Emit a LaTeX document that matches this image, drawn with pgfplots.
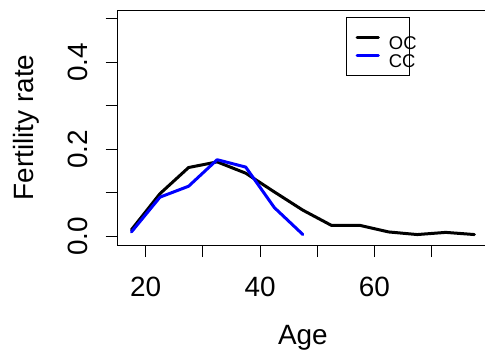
\documentclass[border=0pt]{standalone}
\usepackage{fontspec}
\setmainfont{Liberation Sans}
\usepackage{pgfplots}
\pgfplotsset{compat=1.18}
\begin{document}
\begin{tikzpicture}
\begin{axis}[
  scale only axis,
  width=370.4bp, height=235bp,
  xmin=15.1, xmax=79.9, ymin=-0.02, ymax=0.52,
  axis line style={line width=1bp},
  every tick/.style={black, line width=1bp},
  tick align=outside,
  major tick length=12bp,
  xtick pos=lower, ytick pos=left,
  xtick={20,30,40,50,60,70},
  xticklabels={20,,40,,60,},
  ytick={0,0.1,0.2,0.3,0.4,0.5},
  yticklabels={0.0,,0.2,,0.4,},
  tick label style={font=\fontsize{28}{33}\selectfont, inner sep=0pt},
  xticklabel shift=19.7bp,
  yticklabel style={rotate=90, anchor=south},
  yticklabel shift=17.4bp,
  label style={font=\fontsize{28}{33}\selectfont},
  xlabel={Age},
  ylabel={Fertility rate},
  xlabel style={at={(axis description cs:0.5,-0.3957)}, anchor=center},
  ylabel style={at={(axis description cs:-0.2476,0.5)}, anchor=center, rotate=0},
  legend image code/.code={\draw[#1] (1.5bp,0bp) -- (22.8bp,0bp);},
  legend style={at={(axis description cs:0.6164,0.9702)}, anchor=north west,
    draw=black, line width=1bp, fill=none,
    font=\fontsize{18.5}{20}\selectfont,
    inner xsep=9bp, inner ysep=6.8bp, column sep=9.1bp, row sep=-8.1bp,
    nodes={inner sep=0pt, text height=24.9bp, text depth=1.5bp},
    cells={anchor=west}},
]
\coordinate (O) at (rel axis cs:0,0);
\addplot[black, line width=3bp, line cap=round, line join=round] coordinates {
 (17.5,0.015)(22.5,0.098)(27.5,0.158)(32.5,0.171)(37.5,0.145)(42.5,0.102)
 (47.5,0.060)(52.5,0.025)(57.5,0.025)(62.5,0.010)(67.5,0.004)(72.5,0.009)(77.5,0.004)};
\addlegendentry{\makebox[11.9bp][l]{OC}}
\addplot[blue, line width=3bp, line cap=round, line join=round] coordinates {
 (17.5,0.010)(22.5,0.090)(27.5,0.115)(32.5,0.176)(37.5,0.159)(42.5,0.066)(47.5,0.004)};
\addlegendentry{\makebox[11.9bp][l]{CC}}
\end{axis}
\pgfresetboundingbox
\path[use as bounding box] ([shift={(-117.7bp,-110bp)}]O) rectangle ([shift={(367.3bp,245bp)}]O);
\end{tikzpicture}
\end{document}
